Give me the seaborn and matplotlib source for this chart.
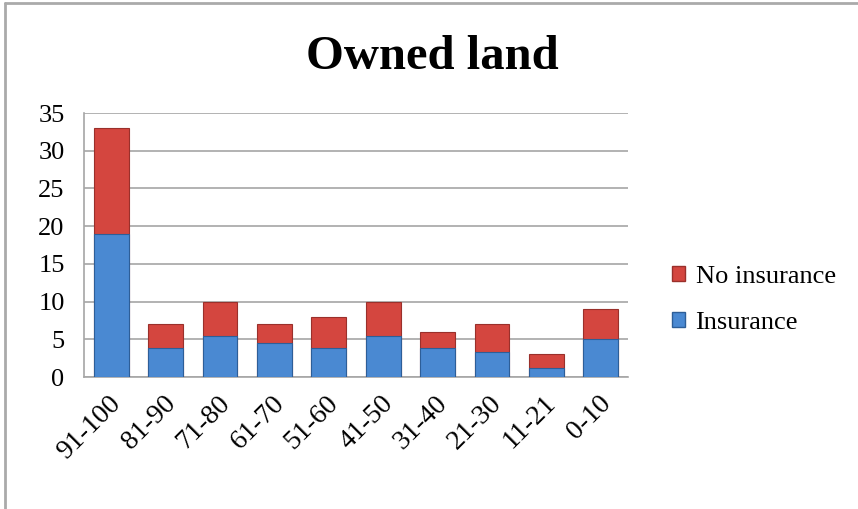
import pandas as pd
import matplotlib.pyplot as plt
import matplotlib.transforms as mtransforms
import seaborn as sns
from matplotlib.patches import Patch

# data
groups = ["91-100", "81-90", "71-80", "61-70", "51-60",
          "41-50", "31-40", "21-30", "11-21", "0-10"]
insurance = [19, 3.8, 5.5, 4.5, 3.8, 5.5, 3.8, 3.3, 1.2, 5]
no_insurance = [14, 3.2, 4.5, 2.5, 4.2, 4.5, 2.2, 3.7, 1.8, 4]

df = pd.DataFrame({"Group": groups, "Insurance": insurance,
                   "No insurance": no_insurance})
df["Total"] = df["Insurance"] + df["No insurance"]

sns.set_style("white")
plt.rcParams["font.family"] = ["Liberation Serif", "DejaVu Serif"]
plt.rcParams["text.color"] = "black"
plt.rcParams["xtick.color"] = "black"
plt.rcParams["ytick.color"] = "black"

blue = "#4A89D2"
red = "#D4463F"

fig = plt.figure(figsize=(8.58, 5.09), dpi=100)
ax = fig.add_axes([84 / 858, 1 - 377 / 509, (628 - 84) / 858, (377 - 113) / 509])

sns.barplot(data=df, x="Group", y="Total", color=red, width=0.64,
            edgecolor="#9A302B", linewidth=0.8, saturation=1, ax=ax, zorder=3)
sns.barplot(data=df, x="Group", y="Insurance", color=blue, width=0.64,
            edgecolor="#2D5E98", linewidth=0.8, saturation=1, ax=ax, zorder=4)

ax.set_ylim(0, 35)
ax.set_xlim(-0.5, len(groups) - 0.5)
ax.set_yticks(range(0, 36, 5))
ax.yaxis.grid(True, color="#A6A6A6", linewidth=1.2, zorder=0)
ax.set_axisbelow(True)
for s in ["top", "right"]:
    ax.spines[s].set_visible(False)
for s in ["left", "bottom"]:
    ax.spines[s].set_color("#A6A6A6")
    ax.spines[s].set_linewidth(1.2)
ax.set_xlabel("")
ax.set_ylabel("")
ax.tick_params(axis="y", length=0, pad=14, labelsize=19)
ax.tick_params(axis="x", length=0, pad=10, labelsize=20)
shift = mtransforms.ScaledTranslation(-2 / 72, 0, fig.dpi_scale_trans)
for lbl in ax.get_xticklabels():
    lbl.set_rotation(45)
    lbl.set_ha("right")
    lbl.set_va("top")
    lbl.set_rotation_mode("anchor")
    lbl.set_transform(lbl.get_transform() + shift)

fig.text(432 / 858, 1 - 57 / 509, "Owned land", ha="center", va="center",
         fontsize=35, fontweight="bold", color="black")

handles = [Patch(facecolor=red, edgecolor="#9A302B"),
           Patch(facecolor=blue, edgecolor="#2D5E98")]
leg = fig.legend(handles, ["No insurance", "Insurance"], loc="center left",
                 bbox_to_anchor=(648 / 858, 1 - 300 / 509), frameon=False,
                 fontsize=19, handlelength=0.5, handleheight=0.5,
                 handletextpad=0.4, labelspacing=0.9)

# outer frame of the chart box
fig.add_artist(plt.Line2D([5 / 858, 5 / 858], [0, 1 - 3 / 509],
                          transform=fig.transFigure, color="#AAAAAA", lw=2))
fig.add_artist(plt.Line2D([5 / 858, 1], [1 - 3 / 509, 1 - 3 / 509],
                          transform=fig.transFigure, color="#AAAAAA", lw=2))

fig.savefig("out.png", dpi=100)
